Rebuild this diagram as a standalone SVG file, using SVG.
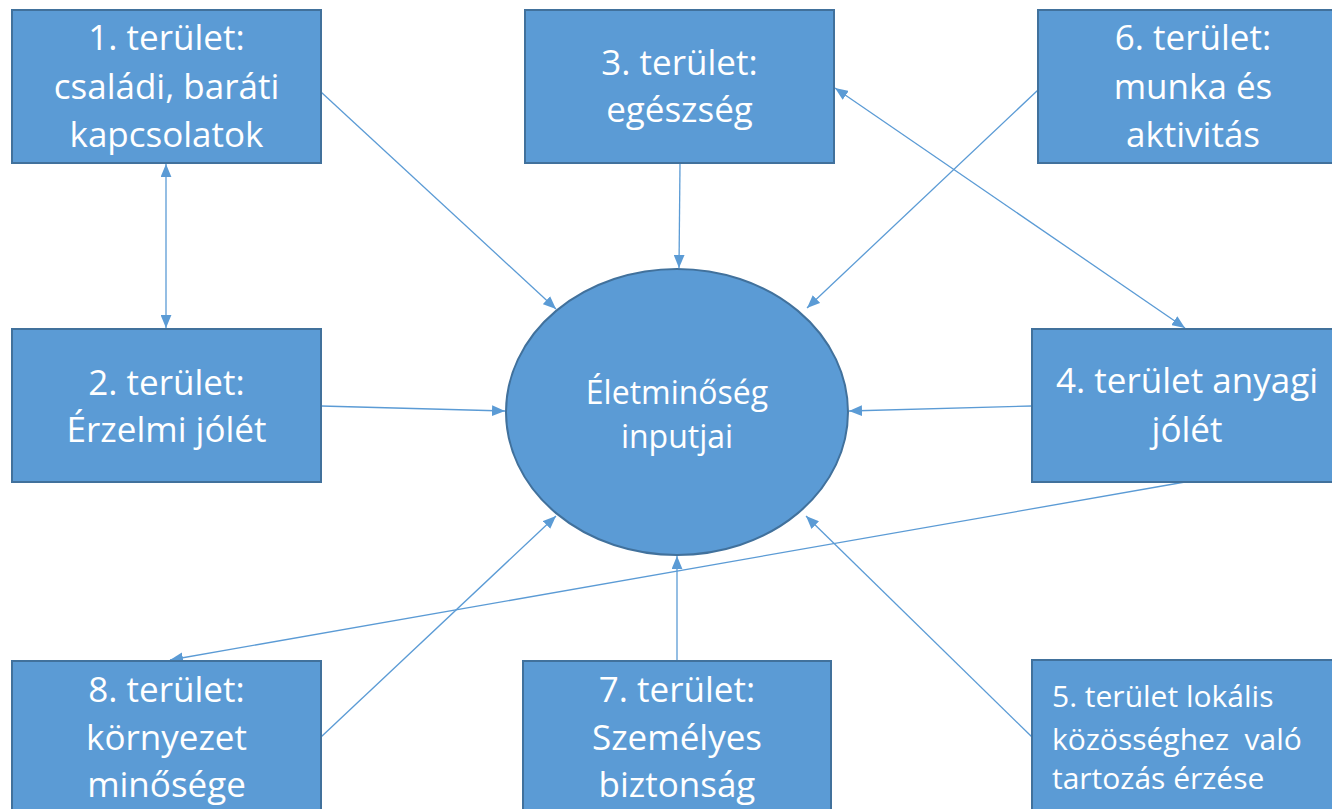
<svg xmlns="http://www.w3.org/2000/svg" width="1332" height="809" viewBox="0 0 1332 809">
<style>
.box{fill:#5B9BD5;stroke:#41719C;stroke-width:2}
.t{font-family:"Open Sans","Liberation Sans",sans-serif;font-size:35px;fill:#fff;text-anchor:middle}
.e{font-size:32px}
.s{font-family:"Open Sans","Liberation Sans",sans-serif;font-size:30px;fill:#fff}
.c{stroke:#5B9BD5;stroke-width:1.3;fill:none}
</style>
<defs>
<marker id="ah" viewBox="0 0 12 10" refX="12" refY="5" markerWidth="13" markerHeight="11" markerUnits="userSpaceOnUse" orient="auto-start-reverse">
<path d="M0,0 L12,5 L0,10 Z" fill="#5B9BD5"/>
</marker>
</defs>
<rect width="1332" height="809" fill="#fff"/>
<g id="connectors">
<line class="c" x1="321" y1="92" x2="556" y2="309" marker-end="url(#ah)"/>
<line class="c" x1="166" y1="164" x2="166" y2="328" marker-start="url(#ah)" marker-end="url(#ah)"/>
<line class="c" x1="680" y1="164" x2="679" y2="268" marker-end="url(#ah)"/>
<line class="c" x1="1038" y1="90" x2="807" y2="308" marker-end="url(#ah)"/>
<line class="c" x1="835" y1="88" x2="1185" y2="328" marker-start="url(#ah)" marker-end="url(#ah)"/>
<line class="c" x1="321" y1="406" x2="505" y2="411" marker-end="url(#ah)"/>
<line class="c" x1="1032" y1="406" x2="849" y2="411" marker-end="url(#ah)"/>
<line class="c" x1="1185" y1="482" x2="170" y2="660" marker-end="url(#ah)"/>
<line class="c" x1="321" y1="737" x2="556" y2="516" marker-end="url(#ah)"/>
<line class="c" x1="677" y1="660" x2="677" y2="556" marker-end="url(#ah)"/>
<line class="c" x1="1032" y1="737" x2="806" y2="516" marker-end="url(#ah)"/>
</g>
<g id="center">
<ellipse class="box" cx="677" cy="412" rx="171" ry="143"/>
<text class="t e" x="677" y="404">Életminőség</text>
<text class="t e" x="677" y="448">inputjai</text>
</g>
<g id="n1">
<rect class="box" x="12" y="10" width="309" height="153"/>
<text class="t" x="166.5" y="50">1. terület:</text>
<text class="t" x="166.5" y="99">családi, baráti</text>
<text class="t" x="166.5" y="147">kapcsolatok</text>
</g>
<g id="n3">
<rect class="box" x="525" y="10" width="309" height="153"/>
<text class="t" x="679.5" y="75">3. terület:</text>
<text class="t" x="679.5" y="122">egészség</text>
</g>
<g id="n6">
<rect class="box" x="1038" y="10" width="310" height="153"/>
<text class="t" x="1193" y="50">6. terület:</text>
<text class="t" x="1193" y="99">munka és</text>
<text class="t" x="1193" y="147">aktivitás</text>
</g>
<g id="n2">
<rect class="box" x="12" y="329" width="309" height="153"/>
<text class="t" x="166.5" y="395">2. terület:</text>
<text class="t" x="166.5" y="442">Érzelmi jólét</text>
</g>
<g id="n4">
<rect class="box" x="1032" y="329" width="310" height="153"/>
<text class="t" x="1187" y="393">4. terület anyagi</text>
<text class="t" x="1187" y="442">jólét</text>
</g>
<g id="n8">
<rect class="box" x="12" y="661" width="309" height="155"/>
<text class="t" x="166.5" y="702">8. terület:</text>
<text class="t" x="166.5" y="750">környezet</text>
<text class="t" x="166.5" y="797">minősége</text>
</g>
<g id="n7">
<rect class="box" x="523" y="661" width="308" height="155"/>
<text class="t" x="677" y="702">7. terület:</text>
<text class="t" x="677" y="750">Személyes</text>
<text class="t" x="677" y="797">biztonság</text>
</g>
<g id="n5">
<rect class="box" x="1032" y="660" width="310" height="156"/>
<text class="s" x="1052" y="707">5. terület lokális</text>
<text class="s" x="1052" y="750" xml:space="preserve">közösséghez  való</text>
<text class="s" x="1052" y="789">tartozás érzése</text>
</g>
</svg>
